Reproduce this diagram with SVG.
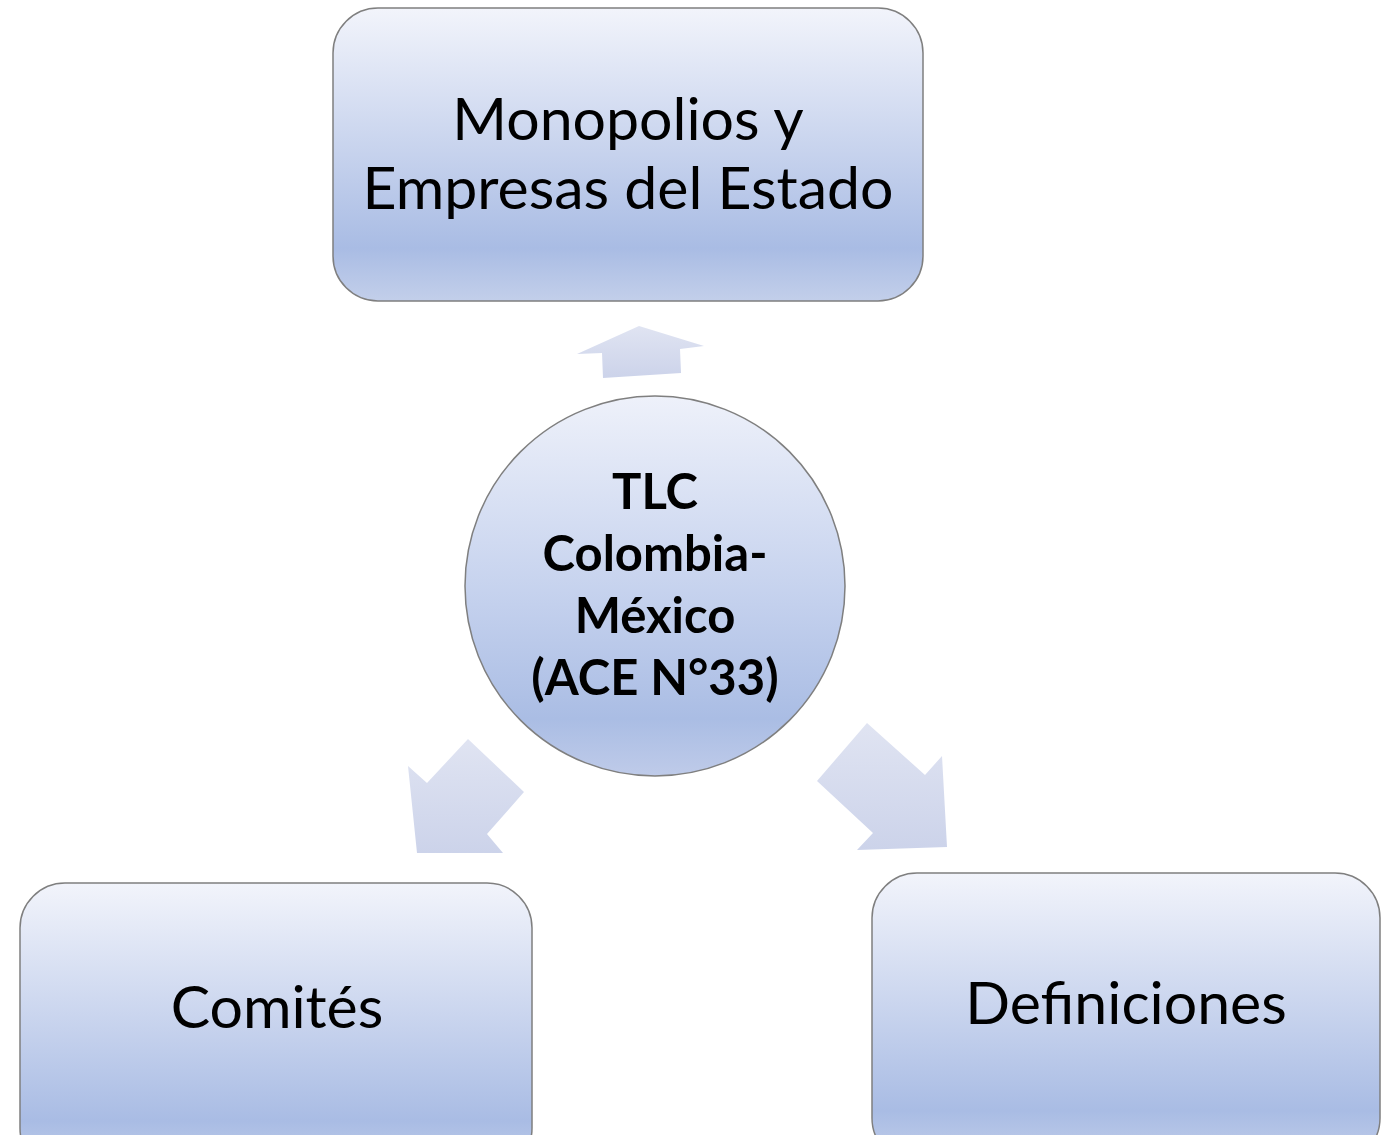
<svg xmlns="http://www.w3.org/2000/svg" width="1389" height="1135" viewBox="0 0 1389 1135">
<defs>
<linearGradient id="box" x1="0" y1="0" x2="0" y2="1">
<stop offset="0" stop-color="#f2f4fb"/>
<stop offset="0.5" stop-color="#c6d2ed"/>
<stop offset="0.82" stop-color="#a9bce4"/>
<stop offset="1" stop-color="#c3cfea"/>
</linearGradient>
<linearGradient id="circ" x1="0" y1="0" x2="0" y2="1">
<stop offset="0" stop-color="#eef1fa"/>
<stop offset="0.55" stop-color="#c3d0ed"/>
<stop offset="0.85" stop-color="#aabde4"/>
<stop offset="1" stop-color="#bfcbe9"/>
</linearGradient>
<linearGradient id="arr" x1="0" y1="0" x2="0" y2="1">
<stop offset="0" stop-color="#e0e4f2"/>
<stop offset="1" stop-color="#ccd3ea"/>
</linearGradient>
<style>
.box{fill:url(#box);stroke:#7f7f7f;stroke-width:1.5}
.t{font-family:Lato,"Open Sans",sans-serif;fill:#000;text-anchor:middle}
.big{font-size:59px}
.bold{font-size:49px;font-weight:bold}
.arrow{fill:url(#arr)}
</style>
</defs>
<rect width="1389" height="1135" fill="#fff"/>
<g id="connectors">
<polygon class="arrow" points="577,354 639,326 704,346 680,349 681,373 603,378 602,353"/>
<polygon class="arrow" points="417,853 408,766 427,783 468,739 524,792 487,834 503,853"/>
<polygon class="arrow" points="817,781 867,723 925,775 942,756 947,847 857,850 873,833"/>
</g>
<g id="node-top">
<rect class="box" x="333" y="8" width="590" height="293" rx="45"/>
<text class="t big" x="628" y="140">Monopolios y</text>
<text class="t big" x="628" y="209">Empresas del Estado</text>
</g>
<g id="node-center">
<circle cx="655" cy="586" r="190" fill="url(#circ)" stroke="#7f7f7f" stroke-width="1.5"/>
<text class="t bold" x="655" y="509">TLC</text>
<text class="t bold" x="655" y="571">Colombia-</text>
<text class="t bold" x="655" y="633">México</text>
<text class="t bold" x="655" y="695">(ACE N°33)</text>
</g>
<g id="node-left">
<rect class="box" x="20" y="883" width="512" height="290" rx="45"/>
<text class="t big" x="277" y="1028">Comités</text>
</g>
<g id="node-right">
<rect class="box" x="872" y="873" width="508" height="290" rx="45"/>
<text class="t big" x="1126" y="1024">Definiciones</text>
</g>
</svg>
